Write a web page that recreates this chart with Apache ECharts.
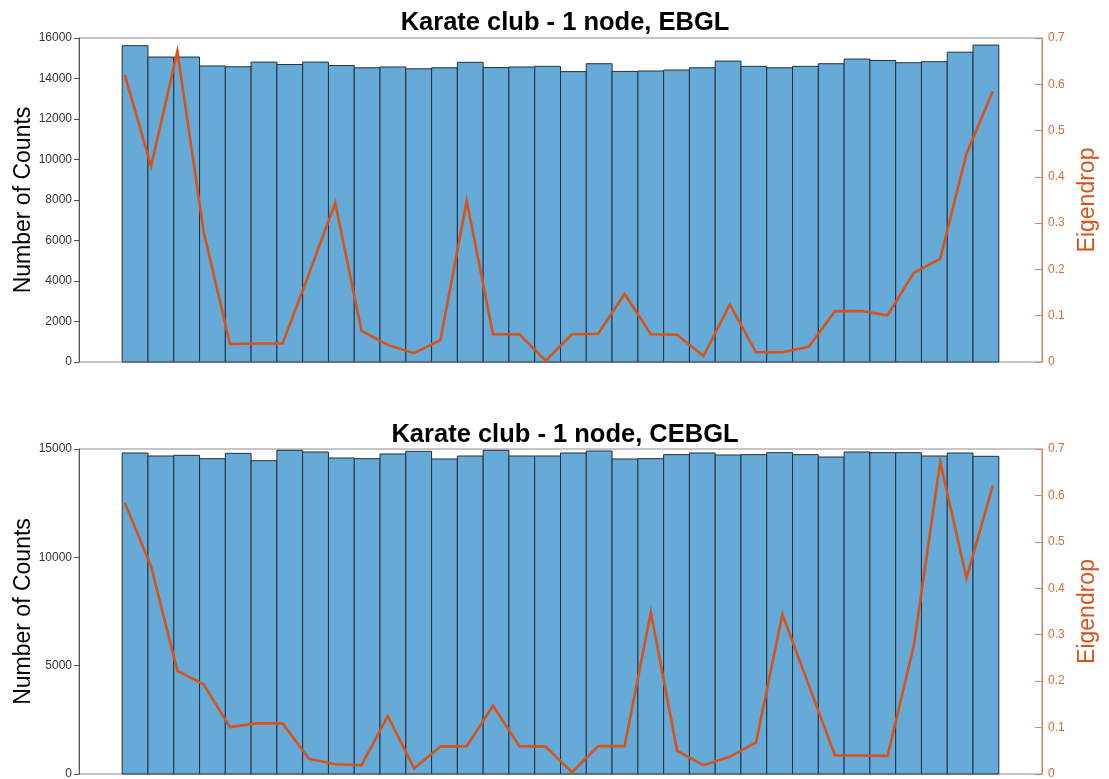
<!DOCTYPE html>
<html>
<head>
<meta charset="utf-8">
<script src="https://cdn.jsdelivr.net/npm/echarts@6/dist/echarts.min.js"></script>
<style>
  html, body { margin: 0; padding: 0; background: #ffffff; }
  #chart { width: 1109px; height: 779px; }
</style>
</head>
<body>
<div id="chart"></div>
<script>
// Karate club network: 34 nodes, one count bar and one eigendrop point per node
const nodeIds = Array.from({ length: 34 }, (_, i) => i + 1);

const titles = ['Karate club - 1 node, EBGL', 'Karate club - 1 node, CEBGL'];

const countsEBGL = [
  15620, 15060, 15060, 14620, 14580, 14810, 14690, 14810, 14640, 14530,
  14570, 14480, 14530, 14800, 14540, 14570, 14600, 14340, 14730, 14350,
  14370, 14420, 14530, 14860, 14600, 14530, 14600, 14730, 14960, 14890,
  14780, 14830, 15300, 15650
];
const eigendropEBGL = [
  0.621, 0.423, 0.671, 0.281, 0.039, 0.040, 0.040, 0.190, 0.344, 0.067,
  0.037, 0.019, 0.047, 0.348, 0.060, 0.060, 0.003, 0.060, 0.061, 0.147,
  0.060, 0.059, 0.013, 0.124, 0.021, 0.021, 0.033, 0.110, 0.110, 0.101,
  0.193, 0.223, 0.450, 0.585
];

const countsCEBGL = [
  14816, 14677, 14708, 14554, 14800, 14462, 14939, 14862, 14585, 14554,
  14770, 14893, 14539, 14677, 14939, 14677, 14677, 14816, 14908, 14539,
  14554, 14739, 14816, 14724, 14739, 14831, 14739, 14631, 14862, 14831,
  14831, 14677, 14816, 14662
];
const eigendropCEBGL = [
  0.584, 0.447, 0.222, 0.193, 0.101, 0.109, 0.109, 0.033, 0.021, 0.019,
  0.125, 0.012, 0.059, 0.060, 0.147, 0.060, 0.059, 0.004, 0.060, 0.060,
  0.348, 0.050, 0.019, 0.037, 0.068, 0.344, 0.192, 0.040, 0.040, 0.039,
  0.278, 0.672, 0.422, 0.621
];

// left axis ranges per panel
const countMax = [16000, 15000];
const countStep = [2000, 5000];
const dropMax = 0.7;
const dropStep = 0.1;

const FONT = '"Liberation Sans", Arial, Helvetica, sans-serif';
const ORANGE = '#D95319';
const BAR_FILL = '#66AAD7';

const chart = echarts.init(document.getElementById('chart'), null, { renderer: 'canvas' });

// histogram bars: each bin spans [node - 0.5, node + 0.5]
function histBar(params, api) {
  const x = api.value(0);
  const v = api.value(1);
  const a = api.coord([x - 0.5, v]);
  const b = api.coord([x + 0.5, 0]);
  return {
    type: 'rect',
    shape: { x: a[0], y: a[1], width: b[0] - a[0], height: b[1] - a[1] },
    style: { fill: BAR_FILL, stroke: '#22313f', lineWidth: 1 }
  };
}

const gridBoxes = [
  { left: 79, top: 38, width: 963, height: 324 },
  { left: 79, top: 449, width: 963, height: 325 }
];

const panels = [
  { counts: countsEBGL, drop: eigendropEBGL },
  { counts: countsCEBGL, drop: eigendropCEBGL }
];

const option = {
  animation: false,
  backgroundColor: '#ffffff',
  title: titles.map((t, i) => ({
    text: t,
    left: 560,
    textAlign: 'center',
    top: i === 0 ? 5 : 417,
    textStyle: { fontFamily: FONT, fontSize: 25.5, fontWeight: 'bold', color: '#000' }
  })),
  grid: gridBoxes.map(g => Object.assign({
    show: true, borderColor: '#8c8c8c', borderWidth: 1, backgroundColor: '#fff',
    containLabel: false, outerBoundsMode: 'none'
  }, g)),
  xAxis: [],
  yAxis: [],
  series: []
};

panels.forEach((p, i) => {
  // bins axis
  option.xAxis.push({
    type: 'value', gridIndex: i, min: -1.175, max: 36.175, show: false,
    axisLine: { onZero: false }
  });
  // eigendrop sample axis
  option.xAxis.push({
    type: 'value', gridIndex: i, min: -0.74, max: 35.87, show: false,
    axisLine: { onZero: false }
  });
  option.yAxis.push({
    type: 'value', gridIndex: i, position: 'left',
    min: 0, max: countMax[i], interval: countStep[i],
    splitLine: { show: false },
    axisLine: { show: true, onZero: false, lineStyle: { color: '#555', width: 1 } },
    axisTick: { show: true, inside: false, length: 5, lineStyle: { color: '#555' } },
    axisLabel: {
      fontFamily: FONT, fontSize: 12, color: '#333', margin: 7,
      formatter: v => String(v)
    },
    name: 'Number of Counts', nameLocation: 'middle', nameGap: 44,
    nameMoveOverlap: false,
    nameTextStyle: { fontFamily: FONT, fontSize: 23, color: '#000' }
  });
  option.yAxis.push({
    type: 'value', gridIndex: i, position: 'right',
    min: 0, max: dropMax, interval: dropStep,
    splitLine: { show: false },
    axisLine: { show: true, onZero: false, lineStyle: { color: '#E8814F', width: 1 } },
    axisTick: { show: true, inside: true, length: 7, lineStyle: { color: '#E8814F' } },
    axisLabel: {
      fontFamily: FONT, fontSize: 12, color: '#E06A35', margin: 6,
      formatter: v => String(+v.toFixed(1))
    },
    name: 'Eigendrop', nameLocation: 'middle', nameGap: 34,
    nameMoveOverlap: false,
    nameTextStyle: { fontFamily: FONT, fontSize: 23, color: ORANGE }
  });
  option.series.push({
    type: 'custom',
    xAxisIndex: 2 * i, yAxisIndex: 2 * i,
    renderItem: histBar,
    encode: { x: 0, y: 1 },
    data: nodeIds.map((n, k) => [n, p.counts[k]]),
    z: 2
  });
  option.series.push({
    type: 'line',
    xAxisIndex: 2 * i + 1, yAxisIndex: 2 * i + 1,
    data: nodeIds.map((n, k) => [n, p.drop[k]]),
    showSymbol: false,
    lineStyle: { color: ORANGE, width: 2.6, join: 'miter' },
    z: 3
  });
});

chart.setOption(option);
</script>
</body>
</html>
